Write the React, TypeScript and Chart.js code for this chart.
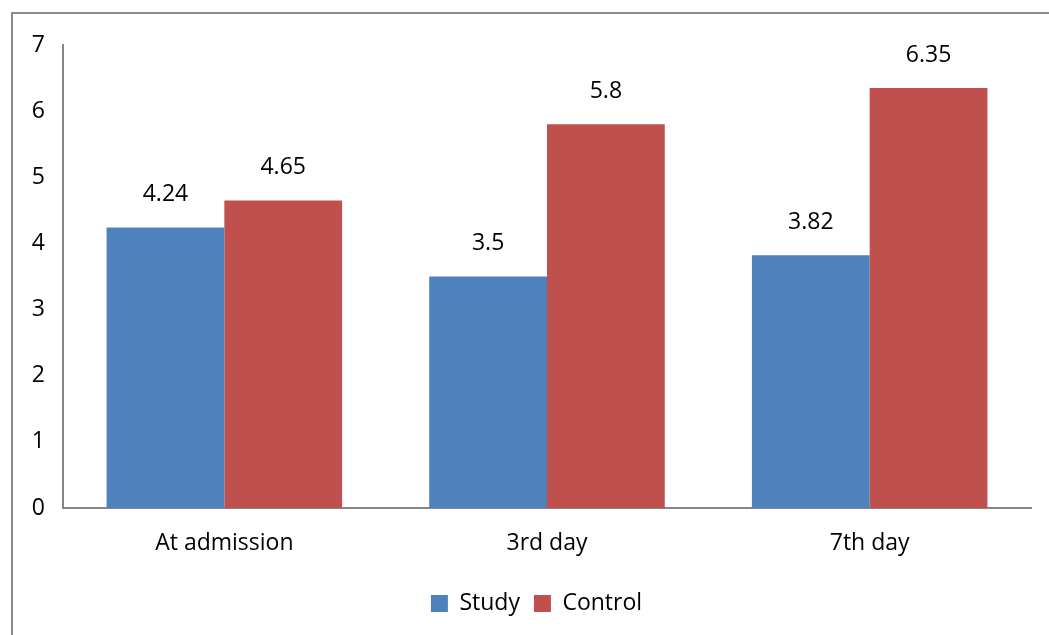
import React, { useEffect, useRef } from "react";
import { Chart, registerables } from "chart.js";

Chart.register(...registerables);

const categories = ["At admission", "3rd day", "7th day"];
const studyValues = [4.24, 3.5, 3.82];
const controlValues = [4.65, 5.8, 6.35];
const seriesNames = ["Study", "Control"];
const yTicks = [0, 1, 2, 3, 4, 5, 6, 7];

const FONT = "'Open Sans', sans-serif";
const FS = 23;

const valueLabels = {
  id: "valueLabels",
  afterDatasetsDraw(chart: any) {
    const ctx = chart.ctx;
    ctx.save();
    ctx.font = `${FS}px ${FONT}`;
    ctx.fillStyle = "#000";
    ctx.textAlign = "center";
    ctx.textBaseline = "middle";
    chart.data.datasets.forEach((ds: any, i: number) => {
      const meta = chart.getDatasetMeta(i);
      meta.data.forEach((el: any, j: number) => {
        ctx.fillText(String(ds.data[j]), el.x, el.y - 33);
      });
    });
    ctx.restore();
  },
};

const legendShift = {
  id: "legendShift",
  afterLayout(chart: any) {
    if (chart.legend) {
      chart.legend.left += 21;
      chart.legend.right += 21;
    }
  },
};

export default function App() {
  const ref = useRef<HTMLCanvasElement>(null);
  useEffect(() => {
    document.body.style.margin = "0";
    const chart = new Chart(ref.current!, {
      type: "bar",
      data: {
        labels: categories,
        datasets: [
          { label: seriesNames[0], data: studyValues, backgroundColor: "#4F81BD" },
          { label: seriesNames[1], data: controlValues, backgroundColor: "#C0504D" },
        ],
      },
      plugins: [valueLabels, legendShift],
      options: {
        animation: false,
        responsive: false,
        maintainAspectRatio: false,
        layout: { padding: { top: 45, right: 18, left: 0, bottom: 10 } },
        datasets: { bar: { categoryPercentage: 0.73, barPercentage: 1 } },
        scales: {
          x: {
            afterFit: (s: any) => {
              s.height = 70;
            },
            grid: { display: false, drawTicks: false },
            border: { display: true, color: "#868686", width: 2 },
            ticks: { color: "#000", font: { family: FONT, size: FS }, padding: 22 },
          },
          y: {
            min: 0,
            max: 7,
            afterBuildTicks: (s: any) => {
              s.ticks = yTicks.map((v) => ({ value: v }));
            },
            afterFit: (s: any) => {
              s.width = 63;
            },
            grid: { display: false, drawTicks: false },
            border: { display: true, color: "#868686", width: 2 },
            ticks: { color: "#000", font: { family: FONT, size: FS }, padding: 18 },
          },
        },
        plugins: {
          legend: {
            position: "bottom",
            labels: {
              color: "#000",
              font: { family: FONT, size: FS },
              boxWidth: 17,
              boxHeight: 17,
              padding: 14,
            },
          },
          tooltip: { enabled: false },
        },
      },
    });
    return () => chart.destroy();
  }, []);
  return (
    <div style={{ position: "relative", width: 1049, height: 635, overflow: "hidden", background: "#fff" }}>
      <div
        style={{
          position: "absolute",
          left: 11,
          top: 12,
          width: 1200,
          height: 800,
          border: "2px solid #8a8a8a",
        }}
      />
      <canvas ref={ref} width={1049} height={635} style={{ position: "absolute", left: 0, top: 0 }} />
    </div>
  );
}
